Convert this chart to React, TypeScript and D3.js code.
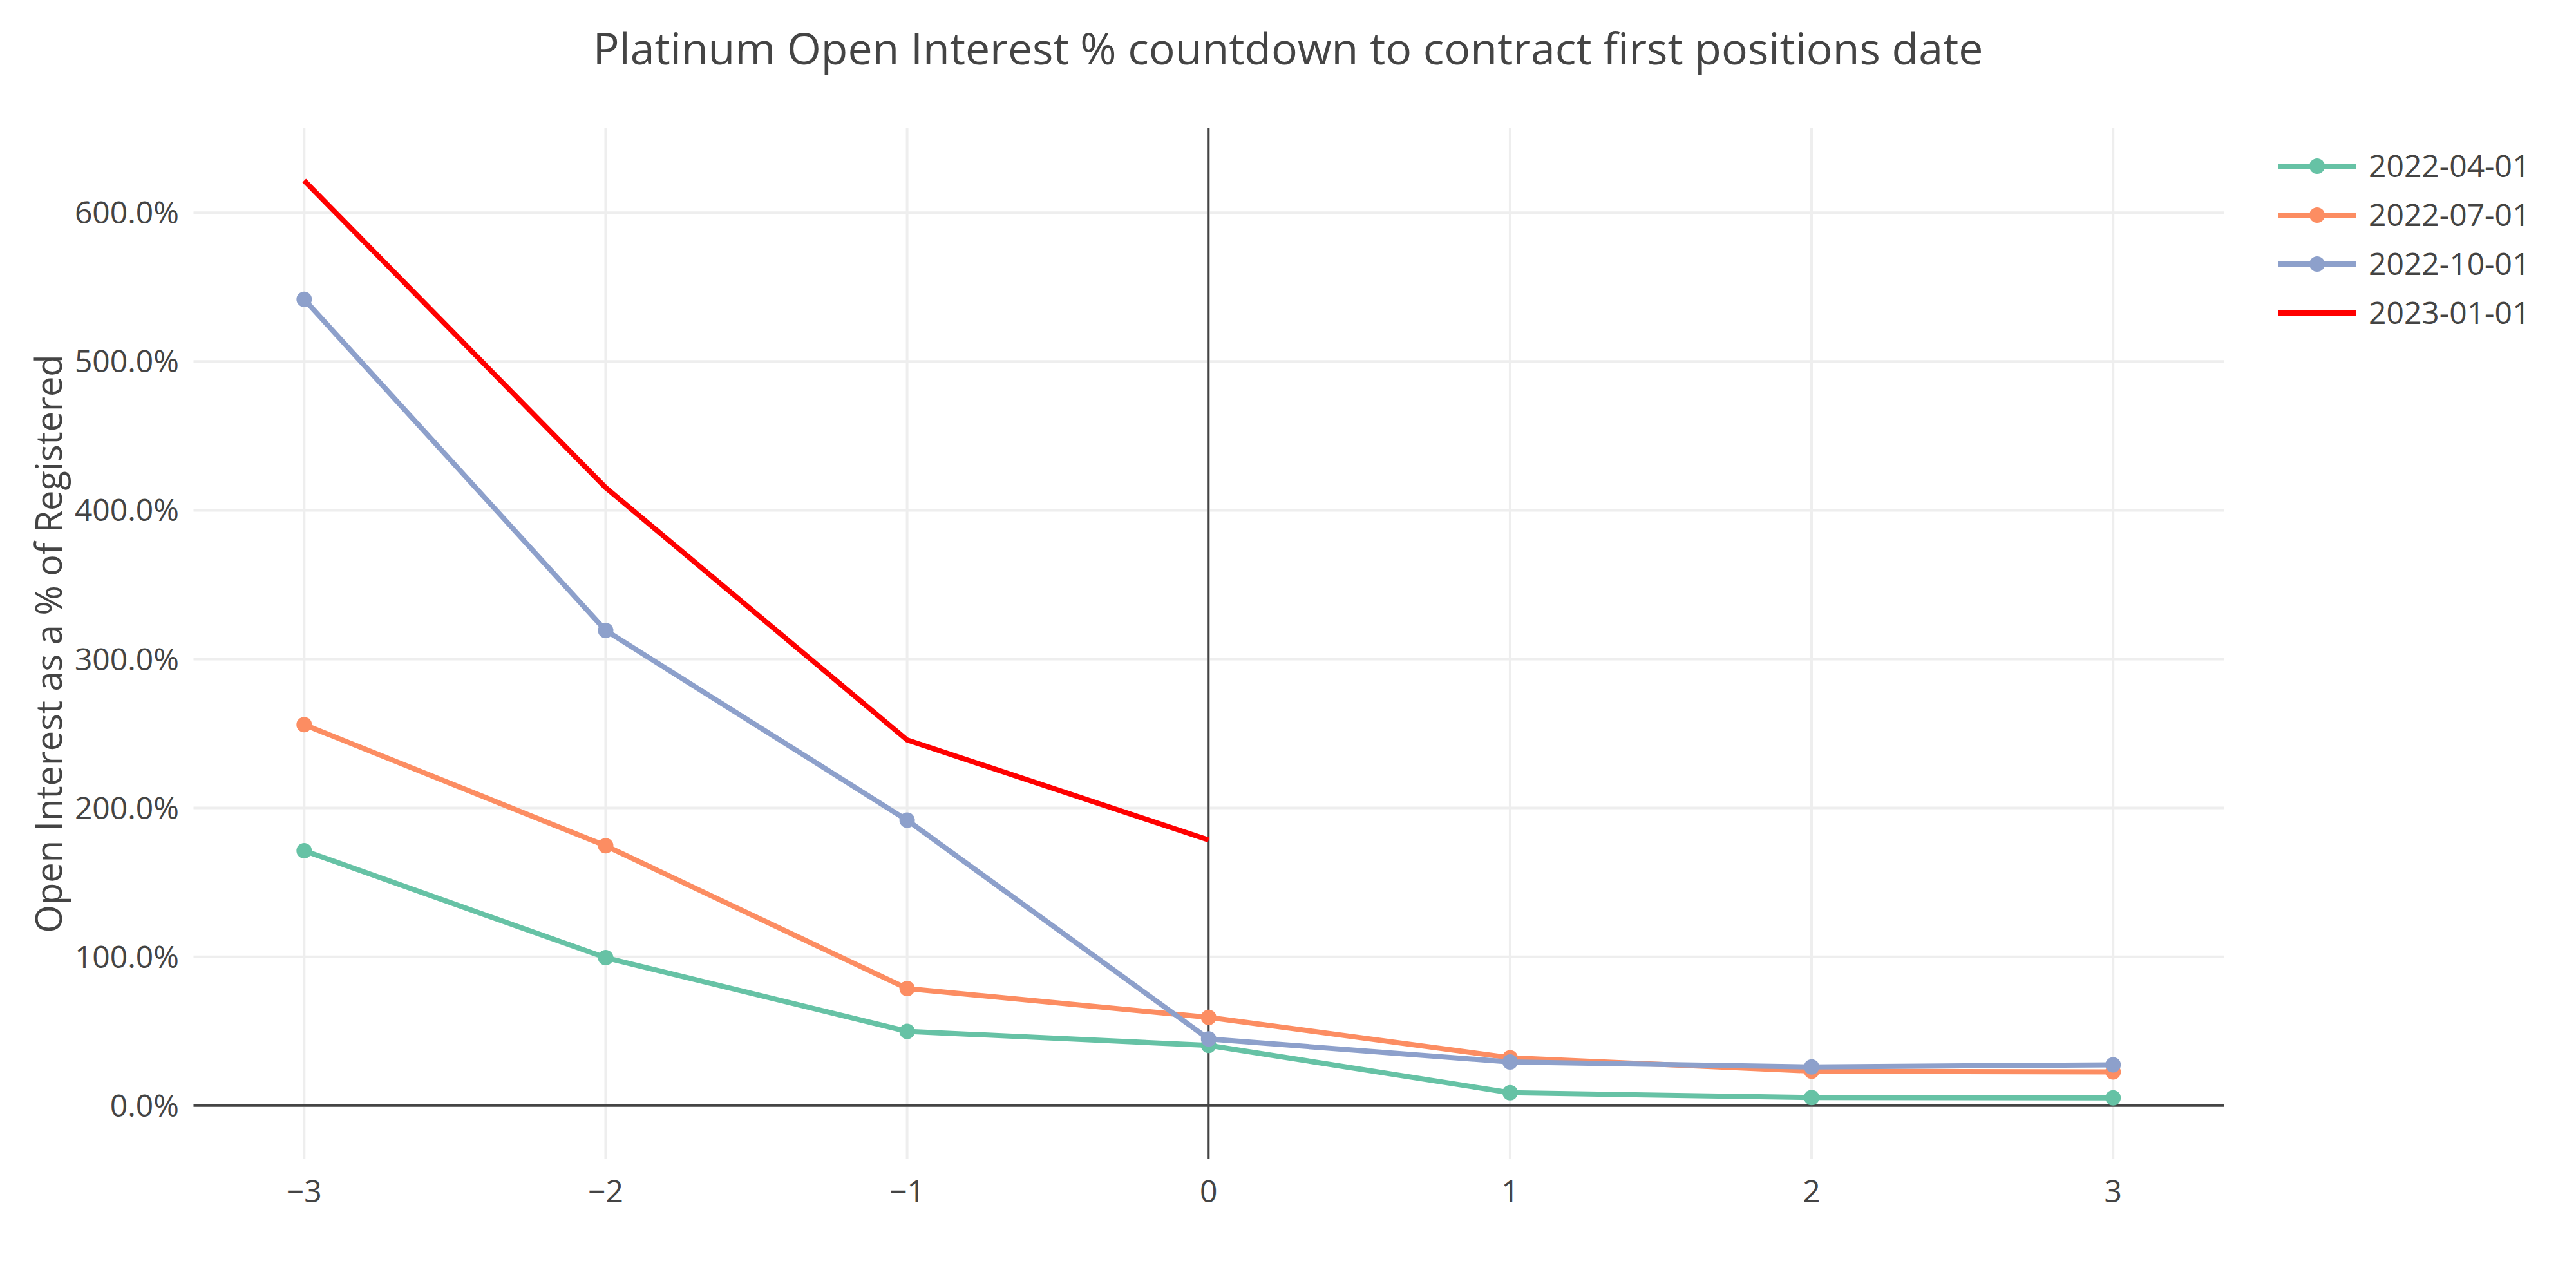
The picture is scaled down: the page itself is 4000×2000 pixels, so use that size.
import React from "react";
import * as d3 from "d3";

const W = 4000;
const H = 2000;

const TITLE = "Platinum Open Interest % countdown to contract first positions date";
const Y_TITLE = "Open Interest as a % of Registered";

const xTicks = [-3, -2, -1, 0, 1, 2, 3];
const yTicks = [0, 100, 200, 300, 400, 500, 600];

const seriesNames = ["2022-04-01", "2022-07-01", "2022-10-01", "2023-01-01"];
const seriesColors = ["#66c2a5", "#fc8d62", "#8da0cb", "#ff0000"];
const seriesMarkers = [true, true, true, false];

const xs2204 = [-3, -2, -1, 0, 1, 2, 3];
const vals2204 = [171.3, 99.4, 49.9, 40.5, 8.7, 5.4, 5.2];
const xs2207 = [-3, -2, -1, 0, 1, 2, 3];
const vals2207 = [256.0, 174.6, 78.7, 59.3, 32.2, 23.2, 22.6];
const xs2210 = [-3, -2, -1, 0, 1, 2, 3];
const vals2210 = [541.8, 319.3, 191.8, 44.8, 29.3, 26.0, 27.4];
const xs2301 = [-3, -2, -1, 0];
const vals2301 = [621.6, 415.3, 245.7, 178.5];

const seriesX = [xs2204, xs2207, xs2210, xs2301];
const seriesY = [vals2204, vals2207, vals2210, vals2301];

const PLOT_L = 300.5;
const PLOT_R = 3453;
const PLOT_T = 199;
const PLOT_B = 1800;

export default function App() {
  const x = d3.scaleLinear().domain([-3.367, 3.367]).range([PLOT_L, PLOT_R]);
  const y = d3.scaleLinear().domain([-36.0, 656.8]).range([PLOT_B, PLOT_T]);
  const line = d3
    .line<[number, number]>()
    .x((d) => x(d[0]))
    .y((d) => y(d[1]));
  const fmtY = (v: number) => v.toFixed(1) + "%";
  const fmtX = (v: number) => (v < 0 ? "\u2212" + Math.abs(v) : String(v));
  const font = "'Open Sans', 'Noto Sans', sans-serif";
  const textColor = "#444";

  const legendX = 3538;
  const legendY0 = 258;
  const legendStep = 76;

  return (
    <svg
      width={W}
      height={H}
      style={{ position: "absolute", left: 0, top: 0, background: "#fff" }}
      fontFamily={font}
    >
      <rect x={0} y={0} width={W} height={H} fill="#fff" />
      {/* grid */}
      {xTicks.map((t) => (
        <line key={"gx" + t} x1={x(t)} x2={x(t)} y1={PLOT_T} y2={PLOT_B} stroke="#eee" strokeWidth={4} />
      ))}
      {yTicks.map((t) => (
        <line key={"gy" + t} x1={PLOT_L} x2={PLOT_R} y1={y(t)} y2={y(t)} stroke="#eee" strokeWidth={4} />
      ))}
      {/* zero lines */}
      <line x1={x(0)} x2={x(0)} y1={PLOT_T} y2={PLOT_B} stroke="#444" strokeWidth={3} />
      <line x1={PLOT_L} x2={PLOT_R} y1={y(0)} y2={y(0)} stroke="#444" strokeWidth={4} />
      {/* series */}
      {seriesNames.map((name, i) => {
        const pts = seriesX[i].map((xv, j) => [xv, seriesY[i][j]] as [number, number]);
        return (
          <g key={name}>
            <path d={line(pts) || ""} fill="none" stroke={seriesColors[i]} strokeWidth={8} strokeLinejoin="round" />
            {seriesMarkers[i] &&
              pts.map((p, j) => <circle key={j} cx={x(p[0])} cy={y(p[1])} r={12} fill={seriesColors[i]} />)}
          </g>
        );
      })}
      {/* y tick labels */}
      {yTicks.map((t) => (
        <text key={"ty" + t} x={278} y={y(t) + 17} textAnchor="end" fontSize={48} fill={textColor}>
          {fmtY(t)}
        </text>
      ))}
      {/* x tick labels */}
      {xTicks.map((t) => (
        <text key={"tx" + t} x={x(t)} y={1867} textAnchor="middle" fontSize={48} fill={textColor}>
          {fmtX(t)}
        </text>
      ))}
      {/* y axis title */}
      <text
        transform={`translate(96,${(PLOT_T + PLOT_B) / 2}) rotate(-90)`}
        textAnchor="middle"
        fontSize={56}
        fill={textColor}
      >
        {Y_TITLE}
      </text>
      {/* title */}
      <text x={2000} y={100} textAnchor="middle" fontSize={68} fill={textColor}>
        {TITLE}
      </text>
      {/* legend */}
      {seriesNames.map((name, i) => {
        const cy = legendY0 + i * legendStep;
        return (
          <g key={"lg" + name}>
            <line x1={legendX} x2={legendX + 120} y1={cy} y2={cy} stroke={seriesColors[i]} strokeWidth={8} />
            {seriesMarkers[i] && <circle cx={legendX + 60} cy={cy} r={12} fill={seriesColors[i]} />}
            <text x={legendX + 140} y={cy + 17} fontSize={48} fill={textColor}>
              {name}
            </text>
          </g>
        );
      })}
    </svg>
  );
}
